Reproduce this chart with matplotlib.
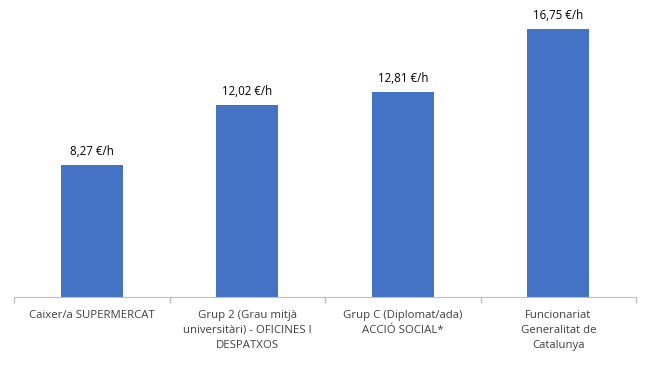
import matplotlib.pyplot as plt

# data
categories = ['Caixer/a SUPERMERCAT',
              'Grup 2 (Grau mitjà\nuniversitàri) - OFICINES I\nDESPATXOS',
              'Grup C (Diplomat/ada)\nACCIÓ SOCIAL*',
              'Funcionariat\nGeneralitat de\nCatalunya']
values = [8.27, 12.02, 12.81, 16.75]
value_labels = ['8,27 €/h', '12,02 €/h', '12,81 €/h', '16,75 €/h']

plt.rcParams['font.family'] = ['Open Sans', 'DejaVu Sans']

fig = plt.figure(figsize=(6.52, 3.65), dpi=100)
ax = fig.add_axes([0.0215, 0.1863, 0.954, 0.789])

x = range(len(categories))
bars = ax.bar(x, values, width=0.4, color='#4472C4')

for xi, v, lab in zip(x, values, value_labels):
    ax.annotate(lab, (xi, v), xytext=(0, 5), textcoords='offset points',
                ha='center', va='bottom', fontsize=8.3, color='#000000')

ax.set_xlim(-0.5, len(categories) - 0.5)
ax.set_ylim(0, 18)
ax.set_yticks([])
ax.set_xticks([i - 0.5 for i in range(len(categories) + 1)], minor=False)
ax.set_xticklabels([])
ax.tick_params(axis='x', length=4, color='#BFBFBF', width=1)
ax.set_xticks(list(x), minor=True)
ax.set_xticklabels(categories, minor=True, fontsize=8.2, color='#404040', linespacing=1.55)
ax.tick_params(axis='x', which='minor', length=0, pad=9)

for s in ['top', 'left', 'right']:
    ax.spines[s].set_visible(False)
ax.spines['bottom'].set_color('#BFBFBF')

fig.savefig('out.png', dpi=100)
